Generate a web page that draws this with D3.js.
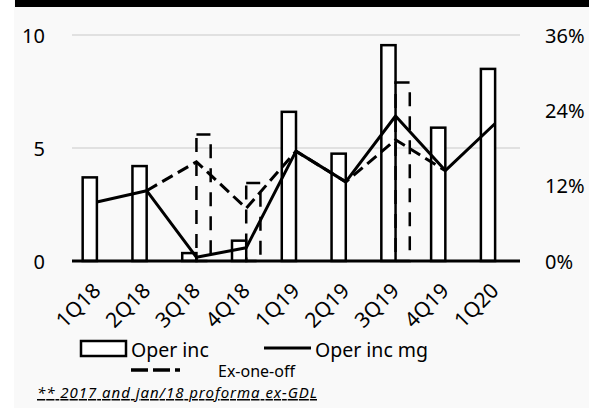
<!DOCTYPE html>
<html>
<head>
<meta charset="utf-8">
<script src="https://cdn.jsdelivr.net/npm/d3@7"></script>
<style>
  body { margin: 0; background: #fff; }
  svg { display: block; }
  svg text { font-family: "Noto Sans", "Open Sans", sans-serif; fill: #000; }
</style>
</head>
<body>
<svg id="chart" width="600" height="408"></svg>
<script>
// 数据
const categories = ['1Q18', '2Q18', '3Q18', '4Q18', '1Q19', '2Q19', '3Q19', '4Q19', '1Q20'];
const operInc = [3.7, 4.2, 0.35, 0.9, 6.6, 4.75, 9.55, 5.9, 8.5];
const exOneOffInc = [null, null, 5.6, 3.45, null, null, 7.9, null, null];
const operIncMg = [0.094, 0.112, 0.006, 0.021, 0.175, 0.126, 0.231, 0.144, 0.219];
const exOneOffMg = [null, 0.112, 0.158, 0.084, 0.175, 0.126, 0.193, 0.144, null];
const leftTicks = [0, 5, 10];
const rightTicks = [0, 0.12, 0.24, 0.36];

const svg = d3.select('#chart');
const plot = {left: 72, right: 520, top: 35, bottom: 261};

// 背景 + 顶部黑条
svg.append('rect').attr('x', 14).attr('y', 0).attr('width', 575).attr('height', 408).attr('fill', '#f9f9f9');
svg.append('rect').attr('x', 15).attr('y', 0).attr('width', 574).attr('height', 7).attr('fill', '#000');

const x = d3.scaleBand().domain(categories).range([plot.left, plot.right]);
const y = d3.scaleLinear().domain([0, 10]).range([plot.bottom, plot.top]);
const y2 = d3.scaleLinear().domain([0, 0.36]).range([plot.bottom, plot.top]);
const bw = x.bandwidth() / 3.5;
const cx = d => x(d) + x.bandwidth() / 2;

// 网格线
svg.append('g').selectAll('line').data(leftTicks.filter(t => t > 0)).enter().append('line')
    .attr('x1', plot.left).attr('x2', plot.right)
    .attr('y1', d => y(d)).attr('y2', d => y(d))
    .attr('stroke', '#d9d9d9').attr('stroke-width', 1.5);

// 左轴
const yAxis = svg.append('g').attr('transform', 'translate(45,0)')
    .call(d3.axisLeft(y).tickValues(leftTicks).tickSize(0).tickPadding(0));
yAxis.select('.domain').remove();
yAxis.selectAll('text').attr('font-size', 20).attr('dy', '0.35em');

// 右轴
const y2Axis = svg.append('g').attr('transform', 'translate(545,0)')
    .call(d3.axisRight(y2).tickValues(rightTicks).tickFormat(d3.format('.0%')).tickSize(0).tickPadding(0));
y2Axis.select('.domain').remove();
y2Axis.selectAll('text').attr('font-size', 20).attr('dy', '0.35em');

// 柱: Oper inc
svg.append('g').selectAll('rect').data(categories).enter().append('rect')
    .attr('x', d => cx(d) - bw)
    .attr('y', (d, i) => y(operInc[i]))
    .attr('width', bw)
    .attr('height', (d, i) => y(0) - y(operInc[i]))
    .attr('fill', '#fff').attr('stroke', '#000').attr('stroke-width', 2.5);

// 柱: Ex-one-off (虚线)
svg.append('g').selectAll('rect').data(categories.filter((d, i) => exOneOffInc[i] != null)).enter().append('rect')
    .attr('x', d => cx(d))
    .attr('y', d => y(exOneOffInc[categories.indexOf(d)]))
    .attr('width', bw)
    .attr('height', d => y(0) - y(exOneOffInc[categories.indexOf(d)]))
    .attr('fill', 'none').attr('stroke', '#000').attr('stroke-width', 2.5)
    .attr('stroke-dasharray', '14,10');

// 折线
const line = d3.line()
    .defined(d => d.v != null)
    .x(d => cx(d.c)).y(d => y2(d.v));
svg.append('path')
    .datum(categories.map((c, i) => ({c: c, v: exOneOffMg[i]})))
    .attr('d', line).attr('fill', 'none').attr('stroke', '#000')
    .attr('stroke-width', 3).attr('stroke-dasharray', '12,6');
svg.append('path')
    .datum(categories.map((c, i) => ({c: c, v: operIncMg[i]})))
    .attr('d', line).attr('fill', 'none').attr('stroke', '#000')
    .attr('stroke-width', 3).attr('stroke-linejoin', 'round');

// 横轴
svg.append('line').attr('x1', plot.left).attr('x2', plot.right)
    .attr('y1', plot.bottom).attr('y2', plot.bottom)
    .attr('stroke', '#000').attr('stroke-width', 3);
svg.append('g').selectAll('text').data(categories).enter().append('text')
    .attr('transform', d => 'translate(' + (cx(d) + 5) + ',' + 292 + ') rotate(-45)')
    .attr('text-anchor', 'end').attr('font-size', 21)
    .text(d => d);

// 图例
const lg = svg.append('g');
lg.append('rect').attr('x', 81).attr('y', 341).attr('width', 45).attr('height', 15)
    .attr('fill', '#fff').attr('stroke', '#000').attr('stroke-width', 2.5);
lg.append('text').attr('x', 131).attr('y', 357).attr('font-size', 19.5).text('Oper inc');
lg.append('line').attr('x1', 264).attr('x2', 311).attr('y1', 348).attr('y2', 348)
    .attr('stroke', '#000').attr('stroke-width', 3);
lg.append('text').attr('x', 315).attr('y', 357).attr('font-size', 19.5).text('Oper inc mg');
lg.append('line').attr('x1', 131).attr('x2', 180).attr('y1', 370).attr('y2', 370)
    .attr('stroke', '#000').attr('stroke-width', 3.5).attr('stroke-dasharray', '17,5');
lg.append('text').attr('x', 218).attr('y', 377).attr('font-size', 16).text('Ex-one-off');

// 脚注
svg.append('text').attr('x', 37).attr('y', 398).attr('font-size', 15)
    .attr('textLength', 280).attr('lengthAdjust', 'spacing')
    .attr('font-style', 'italic').attr('text-decoration', 'underline')
    .text('** 2017 and jan/18 proforma ex-GDL');
</script>
</body>
</html>
